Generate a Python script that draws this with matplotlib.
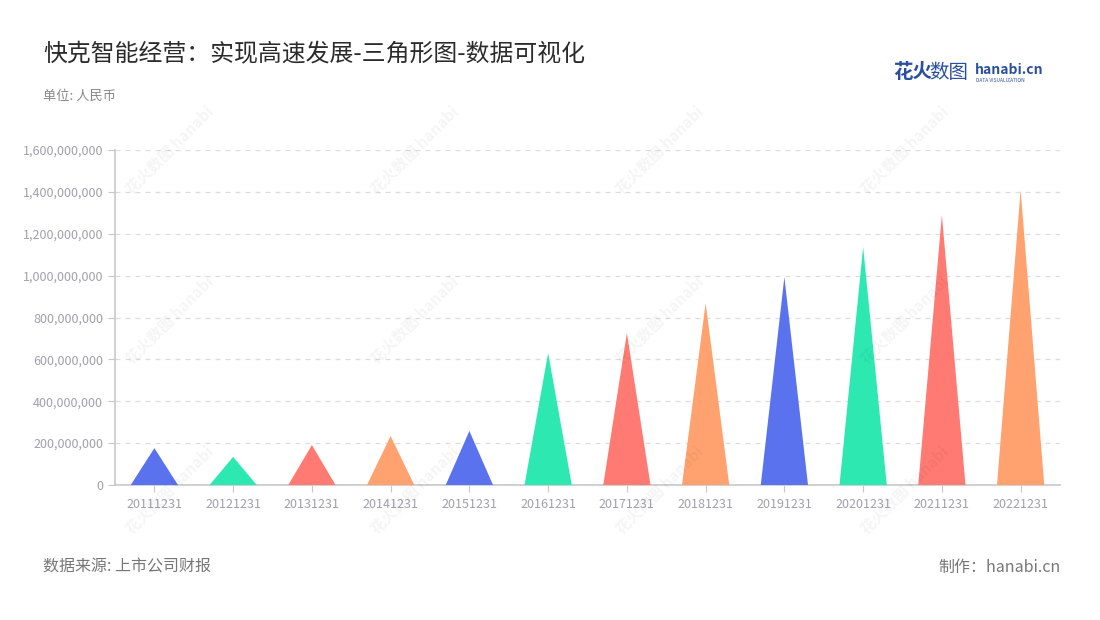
import matplotlib
matplotlib.use("Agg")
import matplotlib.pyplot as plt
from matplotlib.patches import Polygon
from matplotlib.ticker import FuncFormatter

plt.rcParams['font.family'] = ['Noto Sans CJK SC', 'DejaVu Sans']

# data
dates = ['20111231', '20121231', '20131231', '20141231', '20151231', '20161231',
         '20171231', '20181231', '20191231', '20201231', '20211231', '20221231']
revenue = [176e6, 134e6, 191e6, 234e6, 258e6, 630e6,
           726e6, 869e6, 993e6, 1137e6, 1290e6, 1409e6]
palette = ['#5a72ee', '#2de8b1', '#ff7a72', '#ffa26f']

fig = plt.figure(figsize=(11, 6.2), dpi=100)
ax = fig.add_axes([115 / 1100, 1 - 485 / 620, 945 / 1100, 335 / 620])

half = 0.3
for i, v in enumerate(revenue):
    tri = Polygon([(i - half, 0), (i, v), (i + half, 0)], closed=True,
                  facecolor=palette[i % 4], edgecolor='none', zorder=3)
    ax.add_patch(tri)

ax.set_xlim(-0.5, len(dates) - 0.5)
ax.set_ylim(0, 1.6e9)
ax.set_xticks(range(len(dates)))
ax.set_xticklabels(dates)
ax.set_yticks([i * 2e8 for i in range(9)])
ax.yaxis.set_major_formatter(FuncFormatter(lambda x, p: f'{int(x):,}'))

ax.grid(axis='y', linestyle=(0, (4, 4)), color='#dddddd', linewidth=0.9, zorder=0)
for s in ['top', 'right']:
    ax.spines[s].set_visible(False)
for s in ['left', 'bottom']:
    ax.spines[s].set_color('#c8c8c8')
    ax.spines[s].set_linewidth(1.2)
ax.tick_params(axis='both', colors='#c8c8c8', labelcolor='#a0a0a8', labelsize=9, length=5)
ax.tick_params(axis='x', pad=4)

# watermarks
for wx in [170, 415, 660, 905]:
    for wy in [150, 320, 490]:
        fig.text(wx / 1100, 1 - wy / 620, '花火数图 hanabi', rotation=45,
                 fontsize=11, color='#000000', alpha=0.045, ha='center', va='center',
                 fontweight='bold', zorder=10)

fig.text(43 / 1100, 1 - 55 / 620, '快克智能经营：实现高速发展-三角形图-数据可视化',
         fontsize=17.2, color='#2b2b2b', va='center')
fig.text(43 / 1100, 1 - 96 / 620, '单位: 人民币', fontsize=9.5, color='#888888', va='center')
fig.text(43 / 1100, 1 - 567 / 620, '数据来源: 上市公司财报', fontsize=11.5, color='#777777', va='center')
fig.text(1061 / 1100, 1 - 567 / 620, '制作：hanabi.cn', fontsize=11.5, color='#777777',
         va='center', ha='right')

# logo
fig.text(893 / 1100, 1 - 72 / 620, '花火', fontsize=14, color='#2a4f9f',
         fontweight='bold', va='center')
fig.text(929 / 1100, 1 - 72 / 620, '数图', fontsize=14, color='#2a4f9f', va='center')
fig.text(975 / 1100, 1 - 70 / 620, 'hanabi.cn', fontsize=10, color='#2a4f9f',
         fontweight='bold', va='center')
fig.text(976 / 1100, 1 - 80 / 620, 'DATA VISUALIZATION', fontsize=3.5, color='#2a4f9f',
         va='center')

fig.savefig('out.png', dpi=100)
